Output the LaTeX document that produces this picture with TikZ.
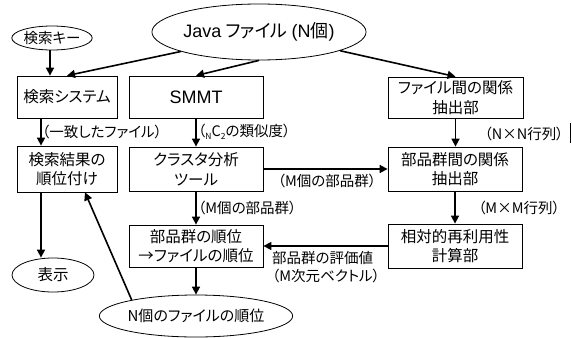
\documentclass[tikz,border=0pt]{standalone}
\usepackage{fontspec}
\setmainfont{Noto Sans CJK JP}[RawFeature=+palt]
\newfontfamily\lat{Liberation Sans}
\usetikzlibrary{arrows.meta,shapes.geometric}
\tikzset{
  box/.style={draw,line width=0.8pt,rectangle,align=center,inner sep=0pt,font=\fontsize{15.5}{19.5}\selectfont},
  oval/.style={draw,line width=0.8pt,ellipse,inner sep=0pt,font=\fontsize{14.5}{17}\selectfont},
  arr/.style={line width=1.6pt,-{Triangle[length=8pt,width=8pt]}},
  lbl/.style={inner sep=0pt,font=\fontsize{14.5}{18.5}\selectfont}
}
\begin{document}
\begin{tikzpicture}[x=1pt,y=-1pt]
\useasboundingbox (0,0) rectangle (572,337);
% nodes
\node[oval,minimum width=72pt,minimum height=24pt] (kkey) at (52,38) {検索キー};
\node[oval,minimum width=198pt,minimum height=56pt,font=\fontsize{18}{20}\selectfont] (java) at (259,32) {{\lat Java} ファイル {\lat (N}個{\lat )}};
\node[box,minimum width=100pt,minimum height=42pt] (ksys) at (67,97) {検索システム};
\node[box,minimum width=134pt,minimum height=42pt,font=\fontsize{18}{20}\selectfont\lat] (smmt) at (196,97) {SMMT};
\node[box,minimum width=135pt,minimum height=41pt] (fkan) at (455.5,97.5) {ファイル間の関係\\抽出部};
\node[box,minimum width=100pt,minimum height=46pt] (kres) at (67,169) {検索結果の\\順位付け};
\node[box,minimum width=134pt,minimum height=44pt] (clus) at (196,169) {クラスタ分析\\ツール};
\node[box,minimum width=134pt,minimum height=44pt] (bkan) at (455,169) {部品群間の関係\\抽出部};
\node[box,minimum width=134pt,minimum height=42pt] (rank) at (196,246) {部品群の順位\\→ファイルの順位};
\node[box,minimum width=134pt,minimum height=44pt] (rel) at (455,246) {相対的再利用性\\計算部};
\node[oval,minimum width=82pt,minimum height=34pt,font=\fontsize{15.5}{17}\selectfont] (disp) at (53,275) {表示};
\node[oval,minimum width=172pt,minimum height=42pt,font=\fontsize{15}{17}\selectfont] (nrank) at (196,316) {N個のファイルの順位};
% connectors
\draw[arr] (kkey.south -| 50,0) -- (ksys.north -| 50,0);
\draw[arr] (java.194) -- (ksys.north);
\draw[arr] (java.south) -- (smmt.north);
\draw[arr] (java.-13) -- (fkan.north);
\draw[arr] ([xshift=-26pt]ksys.south) -- ([xshift=-26pt]kres.north);
\draw[arr] (smmt.south) -- (clus.north);
\draw[arr] (fkan.south) -- (fkan.south |- bkan.north);
\draw[arr] (clus.east) -- (bkan.west);
\draw[arr] (clus.south) -- (rank.north);
\draw[arr] (bkan.south) -- (rel.north);
\draw[arr] (rel.west) -- (rank.east);
\draw[arr] (rank.south) -- (nrank.north);
\draw[arr] (nrank.166) -- ([xshift=18pt]kres.south);
\draw[arr] ([xshift=-26pt]kres.south) -- (disp.north -| 41,0);
% labels
\node[lbl,anchor=west] (l1) at (42,132) {（一致したファイル）};
\node[lbl,anchor=west] (l2) at (198,132) {（\raisebox{-2.5pt}{\fontsize{8.5}{8}\selectfont N}C\raisebox{-2.5pt}{\fontsize{8.5}{8}\selectfont 2}の類似度）};
\node[lbl] (l3) at (524,134) {（N×N行列）};
\node[lbl] (l4) at (327,181) {（M個の部品群）};
\node[lbl,anchor=west] (l5) at (198,208) {（M個の部品群）};
\node[lbl] (l6) at (519,208) {（M×M行列）};
\node[lbl,anchor=north west,align=left,font=\fontsize{14.5}{18}\selectfont] (l7) at (272,251) {部品群の評価値\\（M次元ベクトル）};
\draw[line width=0.6pt] (570,123) -- (570,143);
\end{tikzpicture}
\end{document}
